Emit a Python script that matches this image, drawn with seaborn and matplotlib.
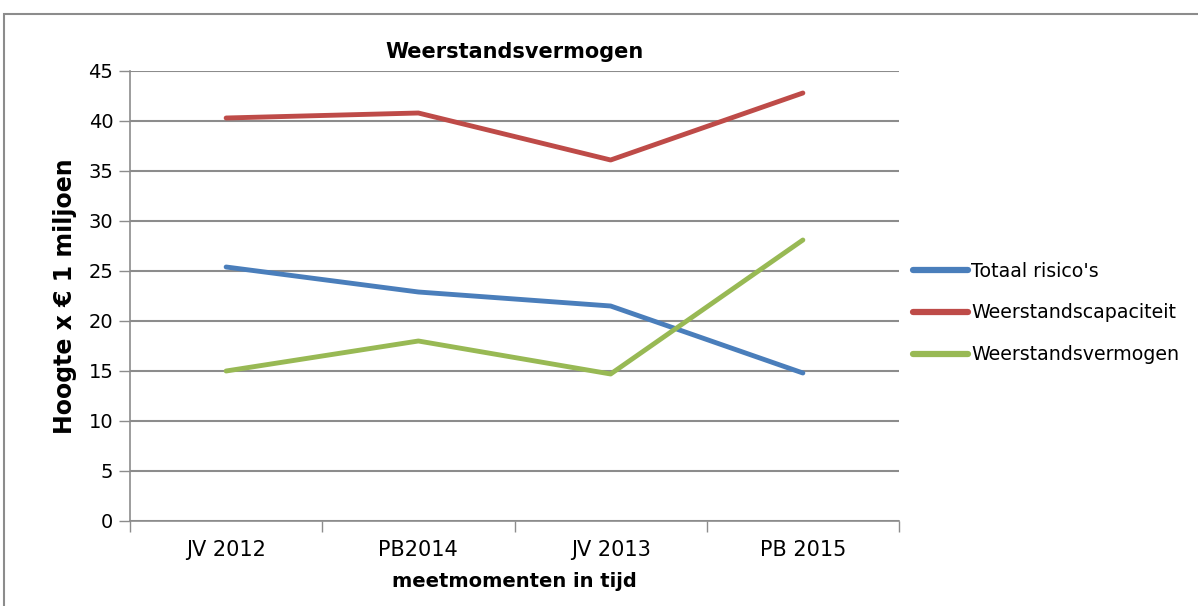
import pandas as pd
import numpy as np
import matplotlib.pyplot as plt
import seaborn as sns
from matplotlib.patches import Rectangle

# Data
categories = ["JV 2012", "PB2014", "JV 2013", "PB 2015"]
totaal_risicos = [25.4, 22.9, 21.5, 14.8]
weerstandscapaciteit = [40.3, 40.8, 36.1, 42.8]
weerstandsvermogen = [15.0, 18.0, 14.7, 28.1]
series_names = ["Totaal risico's", "Weerstandscapaciteit", "Weerstandsvermogen"]
colors = ["#4A7EBB", "#BE4B48", "#98B954"]

# Long-form table for seaborn
df = pd.DataFrame({
    "moment": categories * 3,
    "waarde": totaal_risicos + weerstandscapaciteit + weerstandsvermogen,
    "reeks": [series_names[0]] * 4 + [series_names[1]] * 4 + [series_names[2]] * 4,
})

sns.set_style("white")
plt.rcParams['font.family'] = ['DejaVu Sans']
plt.rcParams['text.color'] = 'black'
plt.rcParams['axes.labelcolor'] = 'black'
plt.rcParams['xtick.color'] = 'black'
plt.rcParams['ytick.color'] = 'black'

fig = plt.figure(figsize=(11.98, 6.06), dpi=100)
ax = fig.add_axes([130 / 1198, 85 / 606, 769 / 1198, 450 / 606])

# outer chart frame (cut off at right/bottom like the reference)
fig.patches.append(Rectangle((4 / 1198, -0.1), 1.2, (606 - 14) / 606 + 0.1,
                             transform=fig.transFigure, fill=False,
                             edgecolor="#8c8c8c", linewidth=1.5))

sns.lineplot(data=df, x="moment", y="waarde", hue="reeks", palette=colors,
             linewidth=3.5, sort=False, ax=ax, legend=False)

ax.set_xlim(-0.5, 3.5)
ax.set_ylim(0, 45)
ax.set_yticks(np.arange(0, 46, 5))
ax.yaxis.grid(True, color="#8c8c8c", linewidth=1.5)
ax.set_axisbelow(True)

# x ticks at category boundaries, labels at centers
ax.set_xticks(np.arange(-0.5, 4, 1))
ax.set_xticklabels([])
ax.set_xticks(np.arange(4), minor=True)
ax.set_xticklabels(categories, minor=True, fontsize=15)
ax.tick_params(axis="x", which="major", bottom=True, length=8, color="#8c8c8c", width=1)
ax.tick_params(axis="x", which="minor", bottom=True, length=0, pad=14)
ax.tick_params(axis="y", left=True, length=8, color="#8c8c8c", width=1, labelsize=14, pad=4)

for side in ["top", "right"]:
    ax.spines[side].set_visible(False)
for side in ["left", "bottom"]:
    ax.spines[side].set_color("#8c8c8c")
    ax.spines[side].set_linewidth(1.2)

ax.set_title("Weerstandsvermogen", fontsize=15, fontweight="bold", pad=9)
ax.set_xlabel("meetmomenten in tijd", fontsize=14, fontweight="bold", labelpad=8)
ax.set_ylabel("Hoogte x € 1 miljoen", fontsize=17, fontweight="bold", labelpad=8)

# legend on the right
handles = [plt.Line2D([], [], color=c, linewidth=4.5, solid_capstyle="round") for c in colors]
fig.legend(handles, series_names, loc="center left", bbox_to_anchor=(896 / 1198, 1 - 313 / 606),
           frameon=False, fontsize=13.7, handlelength=2.9, handletextpad=0.15, labelspacing=1.2)

fig.savefig("out.png", dpi=100)
